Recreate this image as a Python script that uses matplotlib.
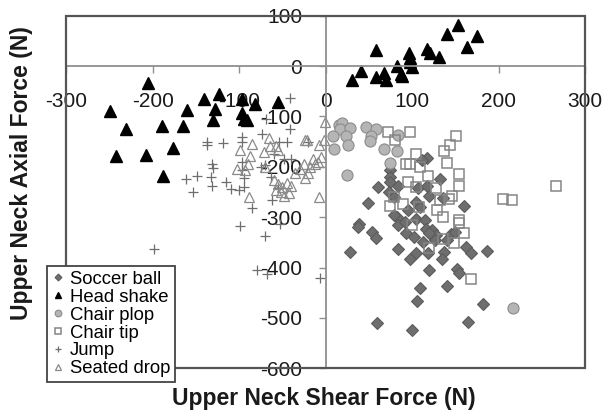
import matplotlib
matplotlib.use('Agg')
import matplotlib.pyplot as plt
from matplotlib.patches import Rectangle
import numpy as np

plt.rcParams['font.family'] = ['Liberation Sans', 'DejaVu Sans']
plt.rcParams['axes.unicode_minus'] = False

# data (N)
soccer_x = [117, 111, 74, 75, 75, 60, 84, 73, 79, 107, 117, 132, 119, 136, 49, 104, 109, 95, 82, 104,
            115, 84, 93, 116, 123, 128, 127, 120, 145, 160, 39, 37, 54, 58, 28, 84, 105, 118, 137, 135,
            98, 162, 168, 187, 120, 152, 154, 109, 140, 106, 182, 59, 100, 165, 92, 102, 79, 140, 150, 113]
soccer_y = [-182, -187, -207, -220, -230, -241, -239, -250, -260, -243, -239, -225, -258, -261, -272, -270,
            -280, -286, -300, -303, -305, -316, -332, -323, -325, -336, -346, -332, -334, -278, -313, -319,
            -329, -341, -369, -364, -372, -372, -369, -384, -384, -359, -371, -368, -405, -402, -411, -440,
            -437, -466, -473, -510, -524, -508, -310, -340, -296, -345, -330, -350]

shake_x = [30, 41, 58, 58, 67, 70, 82, 87, 88, 96, 97, 98, 100, 117, 121, 131, 140, 153, 163, 175,
           -205, -249, -231, -243, -208, -189, -177, -188, -160, -165, -141, -123, -128, -130, -97, -82,
           -55, -97, -95, -91]
shake_y = [-28, -10, 32, -22, -14, -28, 1, -15, -20, 26, 16, 8, -2, 34, 25, 18, 64, 82, 38, 60,
           -34, -89, -124, -179, -176, -118, -163, -218, -88, -119, -65, -55, -85, -108, -65, -75,
           -71, -94, -106, -108]

plop_x = [15, 19, 17, 28, 8, 24, 26, 10, 47, 58, 53, 51, 68, 82, 84, 75, 25, 217]
plop_y = [-117, -113, -124, -122, -139, -139, -156, -165, -121, -124, -139, -149, -165, -169, -136, -192,
          -217, -481]

tip_x = [72, 80, 98, 105, 93, 98, 109, 118, 95, 104, 128, 75, 79, 90, 108, 132, 129, 136, 146, 143,
         154, 154, 140, 137, 144, 151, 100, 120, 136, 148, 154, 154, 160, 168, 205, 216, 267]
tip_y = [-131, -147, -131, -175, -194, -195, -200, -219, -230, -241, -243, -278, -260, -273, -280, -265,
         -286, -300, -257, -263, -215, -239, -192, -169, -157, -139, -316, -362, -343, -352, -305, -312,
         -331, -422, -263, -265, -239]

jump_x = [-41, -69, -41, -74, -97, -97, -137, -137, -119, -132, -130, -149, -161, -133, -132, -115,
          -110, -154, -97, -97, -95, -100, -95, -85, -99, -70, -62, -55, -53, -54, -45, -60, -70, -75,
          -48, -40, -199, -79, -68, -7, -63, -20]
jump_y = [-63, -106, -124, -134, -141, -150, -151, -157, -153, -194, -202, -218, -224, -220, -239, -230,
          -245, -250, -190, -206, -223, -246, -241, -281, -318, -338, -266, -243, -313, -151, -151, -175,
          -197, -200, -185, -185, -364, -404, -412, -420, -220, -150]

drop_x = [-1, -2, -8, -9, -8, -22, -24, -66, -85, -99, -71, -88, -64, -58, -55, -15, -12, -18, -5, -103,
          -90, -93, -60, -55, -50, -45, -40, -52, -42, -58, -48, -89, -20, -24, -35, -70, -25, -30]
drop_y = [-111, -147, -157, -190, -260, -147, -146, -142, -155, -167, -171, -179, -159, -159, -167, -185,
          -195, -200, -180, -204, -194, -207, -227, -235, -240, -232, -238, -250, -252, -247, -258, -260,
          -213, -223, -213, -200, -195, -205]

fig = plt.figure(figsize=(6.02, 4.16), dpi=100)
ax = fig.add_axes([66.3 / 602, 1 - 368.3 / 416, (585 - 66.3) / 602, (368.3 - 15.7) / 416])

ax.plot(soccer_x, soccer_y, 'D', ms=5.8, mfc='#6e6e6e', mec='#5c5c5c', mew=0.8, ls='none', label='Soccer ball')
ax.plot(shake_x, shake_y, '^', ms=8, mfc='black', mec='black', ls='none', label='Head shake')
ax.plot(plop_x, plop_y, 'o', ms=8, mfc='#b5b5b5', mec='#8c8c8c', mew=0.8, ls='none', label='Chair plop')
ax.plot(tip_x, tip_y, 's', ms=7.3, mfc='none', mec='#858585', mew=1.1, ls='none', label='Chair tip')
ax.plot(jump_x, jump_y, '+', ms=7.5, mec='#6e6e6e', mew=0.9, ls='none', label='Jump')
ax.plot(drop_x, drop_y, '^', ms=7.3, mfc='none', mec='#8a8a8a', mew=0.9, ls='none', label='Seated drop')

ax.set_xlim(-300, 300)
ax.set_ylim(-600, 100)
ax.set_xticks(np.arange(-300, 301, 100))
ax.set_yticks(np.arange(-600, 101, 100))

# axes lines through the origin
ax.spines['left'].set_position(('data', 0))
ax.spines['bottom'].set_position(('data', 0))
for s in ['left', 'bottom']:
    ax.spines[s].set_color('#8f8f8f')
    ax.spines[s].set_linewidth(1.3)
ax.spines['top'].set_visible(False)
ax.spines['right'].set_visible(False)
ax.add_patch(Rectangle((0, 0), 1, 1, transform=ax.transAxes, fill=False,
                       ec='#555555', lw=1.6, clip_on=False, zorder=5))

ax.tick_params(axis='x', direction='out', length=5, width=1, color='#8f8f8f', pad=14,
               labelsize=15, labelcolor='#1a1a1a')
ax.tick_params(axis='y', direction='out', length=5, width=1, color='#8f8f8f', pad=12,
               labelsize=15, labelcolor='#1a1a1a')

fig.text(324 / 602, 1 - 398 / 416, 'Upper Neck Shear Force (N)', ha='center', va='center',
         fontsize=16.5, fontweight='bold', color='#1a1a1a')
fig.text(22 / 602, 1 - 173 / 416, 'Upper Neck Axial Force (N)', ha='center', va='center',
         rotation=90, fontsize=16.5, fontweight='bold', color='#1a1a1a')

leg = ax.legend(loc='lower left', bbox_to_anchor=(46.7 / 602, 1 - 382 / 416),
                bbox_transform=fig.transFigure, fontsize=13.3, markerscale=0.6,
                handlelength=0.7, handletextpad=0.3, labelspacing=0.05, borderpad=0.25,
                borderaxespad=0, fancybox=False, framealpha=1, edgecolor='#444444')
leg.get_frame().set_linewidth(1.3)
leg.set_zorder(10)

fig.savefig('out.png', dpi=100)
